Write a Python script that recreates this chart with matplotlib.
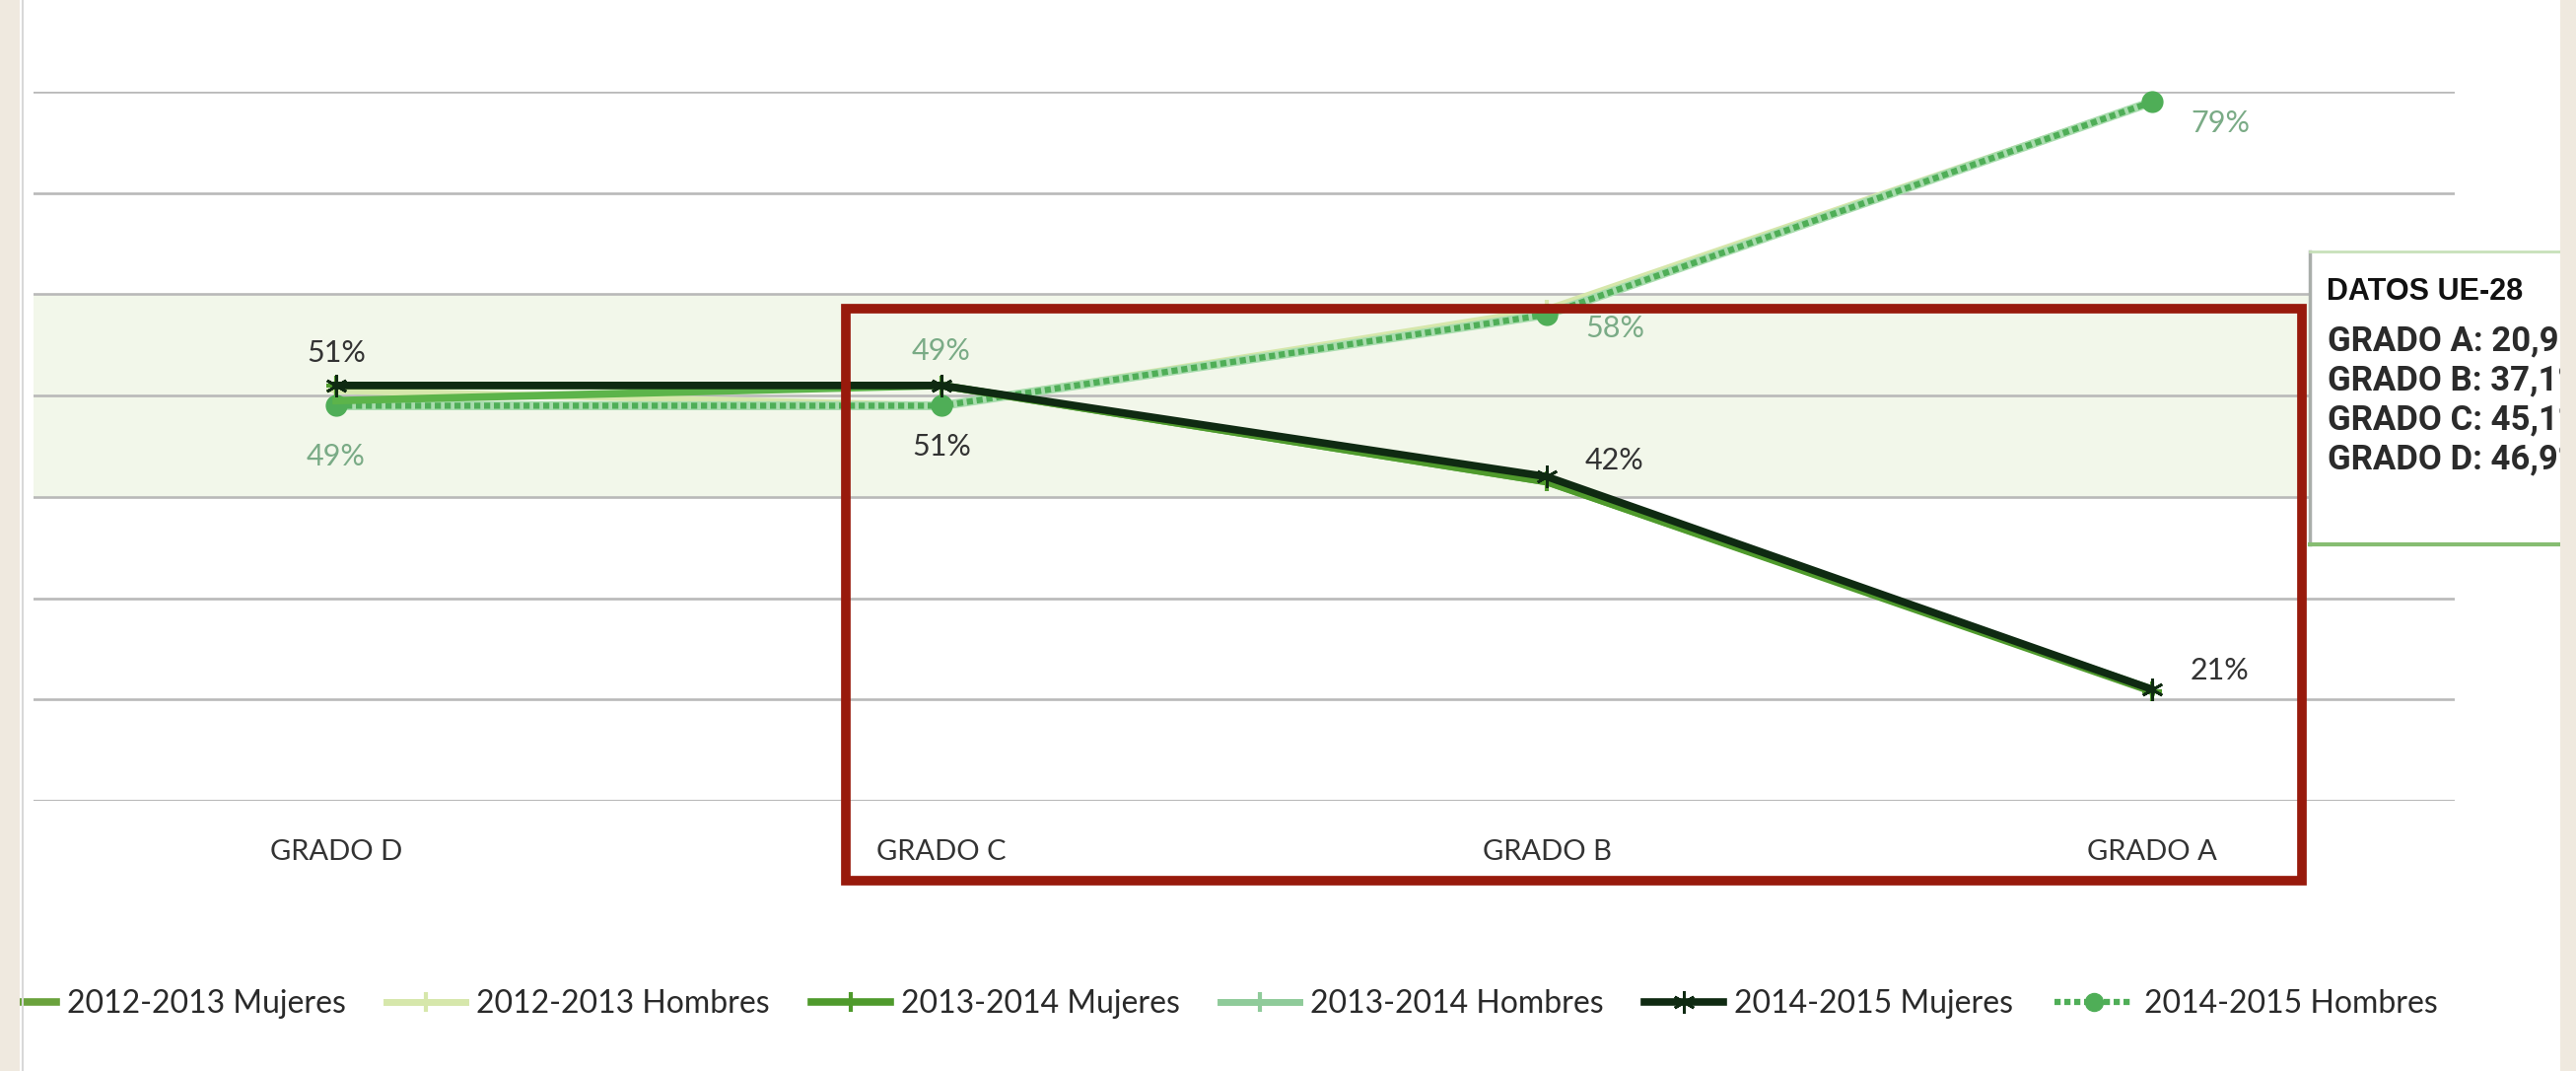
import matplotlib
matplotlib.use("Agg")
import matplotlib.pyplot as plt
from matplotlib.lines import Line2D
from matplotlib.patches import Rectangle

# ---------------- data ----------------
categories = ["GRADO D", "GRADO C", "GRADO B", "GRADO A"]
m_2012_2013 = [49.5, 51, 41.5, 21]
h_2012_2013 = [50.5, 49, 58.5, 79]
m_2013_2014 = [51, 51, 41.5, 20.8]
h_2013_2014 = [49, 49, 58, 79]
m_2014_2015 = [51, 51, 42, 21]
h_2014_2015 = [49, 49, 58, 79]
series_names = ["2012-2013 Mujeres", "2012-2013 Hombres", "2013-2014 Mujeres",
                "2013-2014 Hombres", "2014-2015 Mujeres", "2014-2015 Hombres"]
ue_title = "DATOS UE-28"
ue_lines = ["GRADO A: 20,9%", "GRADO B: 37,1%", "GRADO C: 45,1%", "GRADO D: 46,9%"]

W, H = 2613, 1086
fig = plt.figure(figsize=(W / 100, H / 100), dpi=100)
fig.patch.set_facecolor("white")

def fx(px):
    return px / W

def fy(py):
    return 1 - py / H

ax_left, ax_right, ax_top, ax_bot = 34, 2490, 93, 812
ax = fig.add_axes([fx(ax_left), fy(ax_bot), (ax_right - ax_left) / W, (ax_bot - ax_top) / H])
ax.set_xlim(-0.5, 3.5)
ax.set_ylim(10, 80)
ax.set_facecolor("white")
for s in ax.spines.values():
    s.set_visible(False)

# parity band
ax.axhspan(40, 60, color="#f2f7ea", zorder=0)
# gridlines
for g in range(10, 81, 10):
    ax.axhline(g, color="#b9b9b9" if g > 10 else "#a8a8a8", lw=1.9, zorder=1)

x = list(range(len(categories)))
font = "Lato"

c_m1, c_h1, c_m2, c_h2, c_m3, c_h3 = "#5cb44a", "#d6e7ab", "#4f9a2c", "#a9dcae", "#0f2a12", "#4fae57"

# lines
ax.plot(x, h_2012_2013, color=c_h1, lw=5, marker="+", ms=14, mew=3, zorder=2, clip_on=False)
ax.plot(x, h_2013_2014, color=c_h2, lw=6.5, marker="+", ms=14, mew=3, zorder=2, clip_on=False)
ax.plot(x, h_2014_2015, color=c_h3, lw=4.5, ls=(0, (1.0, 0.6)), marker="o", ms=15,
        zorder=3, clip_on=False)
ax.plot(x, m_2012_2013, color=c_m1, lw=5.5, zorder=4, clip_on=False)
ax.plot(x, m_2013_2014, color=c_m2, lw=5.5, marker="+", ms=14, mew=3, zorder=4, clip_on=False)
ax.plot(x, m_2014_2015, color=c_m3, lw=5.5, marker=(6, 2, 0), ms=16, mew=2, zorder=5,
        clip_on=False)

# data labels (offsets in points)
lab_black = "#333333"
lab_green = "#7aab86"
offs_m = [(0, 24), (0, -45), (28, 12), (28, 14)]
offs_h = [(0, -37), (0, 40), (28, -10), (28, -16)]
for i in x:
    dx, dy = offs_m[i]
    ax.annotate(f"{m_2014_2015[i]:.0f}%", (i, m_2014_2015[i]), xytext=(dx, dy),
                textcoords="offset points", ha="center" if dx == 0 else "left",
                va="center", fontsize=22, color=lab_black, family=font, zorder=6)
    dx, dy = offs_h[i]
    ax.annotate(f"{h_2014_2015[i]:.0f}%", (i, h_2014_2015[i]), xytext=(dx, dy),
                textcoords="offset points", ha="center" if dx == 0 else "left",
                va="center", fontsize=22, color=lab_green, family=font, zorder=6)

ax.set_xticks(x)
ax.set_xticklabels(categories, fontsize=21, color="#333333", family=font)
ax.tick_params(axis="x", length=0, pad=28)
ax.set_yticks([])

# legend
handles = [
    Line2D([], [], color="#6aa23c", lw=5.5),
    Line2D([], [], color=c_h1, lw=5, marker="+", ms=14, mew=3),
    Line2D([], [], color=c_m2, lw=5.5, marker="+", ms=14, mew=3),
    Line2D([], [], color="#8fcb9a", lw=5, marker="+", ms=14, mew=3),
    Line2D([], [], color=c_m3, lw=5.5, marker=(6, 2, 0), ms=16, mew=2),
    Line2D([], [], color=c_h3, lw=4.5, ls=(0, (1.0, 0.6)), marker="o", ms=13),
]
leg = fig.legend(handles, series_names, loc="center left", ncol=6, frameon=False,
                 bbox_to_anchor=(fx(-23), fy(1018)), borderpad=0, borderaxespad=0,
                 handlelength=2.5, handletextpad=0.35, columnspacing=1.3,
                 prop={"family": font, "size": 23})
for t in leg.get_texts():
    t.set_color("#2a2a2a")

# UE-28 box
box_l, box_t, box_b = 2343, 255, 552
fig.add_artist(Rectangle((fx(box_l), fy(box_b)), fx(W - box_l + 10), (box_b - box_t) / H,
                         transform=fig.transFigure, facecolor="white", edgecolor="none", zorder=8))
fig.add_artist(Line2D([fx(box_l), fx(box_l)], [fy(box_b), fy(box_t)], transform=fig.transFigure,
                      color="#a9aeaa", lw=2.5, zorder=9))
fig.add_artist(Line2D([fx(box_l), fx(W)], [fy(box_b), fy(box_b)], transform=fig.transFigure,
                      color="#86bd72", lw=3, zorder=9))
fig.add_artist(Line2D([fx(box_l), fx(W)], [fy(box_t), fy(box_t)], transform=fig.transFigure,
                      color="#c8e0ba", lw=2, zorder=9))
fig.text(fx(2360), fy(296), ue_title, fontsize=22, fontweight="bold",
         family="Liberation Sans", color="#111111", va="center", ha="left", zorder=10)
for k, line in enumerate(ue_lines):
    fig.text(fx(2361), fy(346 + 40 * k), line, fontsize=25, fontweight="bold", family="Roboto",
             color="#2b2b2b", va="center", ha="left", zorder=10)

# red highlight rectangle
fig.add_artist(Rectangle((fx(858), fy(893)), fx(2335 - 858), (893 - 313) / H,
                         transform=fig.transFigure, facecolor="none", edgecolor="#981a0c",
                         lw=7, zorder=11))

# beige slide edges
beige = "#efe9df"
fig.add_artist(Rectangle((0, 0), fx(20), 1, transform=fig.transFigure, facecolor=beige,
                         edgecolor="none", zorder=20))
fig.add_artist(Rectangle((fx(2597), 0), fx(W - 2597), 1, transform=fig.transFigure,
                         facecolor=beige, edgecolor="none", zorder=20))
fig.add_artist(Line2D([fx(23), fx(23)], [0, 1], transform=fig.transFigure, color="#d8d8d8",
                      lw=1.5, zorder=19))

fig.savefig("out.png", dpi=100)
